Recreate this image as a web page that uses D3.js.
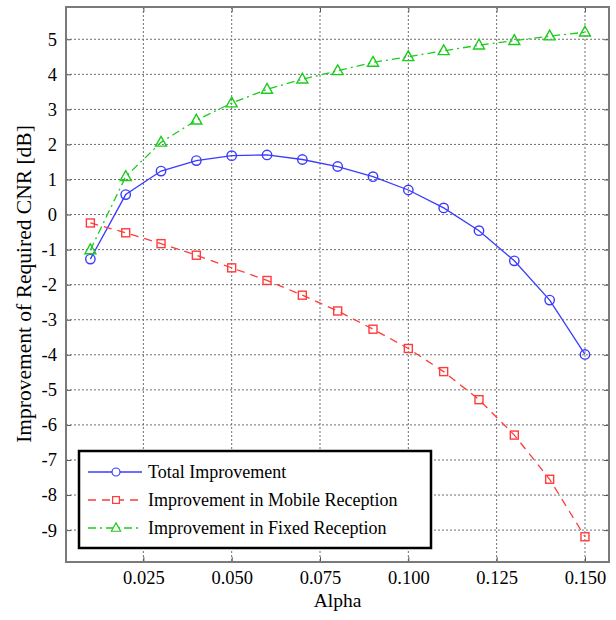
<!DOCTYPE html>
<html>
<head>
<meta charset="utf-8">
<script src="https://cdn.jsdelivr.net/npm/d3@7"></script>
<style>
  body { margin: 0; background: #fff; }
  svg text { font-family: "Liberation Serif", "Times New Roman", serif; fill: #000; }
</style>
</head>
<body>
<div id="container"></div>
<script>
/* CONSTANTS AND GLOBALS */
const width = 616,
    height = 620,
    margin = { top: 7, bottom: 58, left: 66, right: 7 };
const serif = '"Liberation Serif", "Times New Roman", serif';

// DATA
const alpha = [0.01, 0.02, 0.03, 0.04, 0.05, 0.06, 0.07, 0.08, 0.09, 0.10, 0.11, 0.12, 0.13, 0.14, 0.15];
const totalImprovement = [-1.27, 0.57, 1.24, 1.54, 1.68, 1.70, 1.57, 1.37, 1.08, 0.70, 0.19, -0.46, -1.32, -2.44, -3.99];
const mobileImprovement = [-0.24, -0.52, -0.83, -1.16, -1.52, -1.88, -2.30, -2.75, -3.27, -3.82, -4.48, -5.28, -6.29, -7.55, -9.19];
const fixedImprovement = [-1.01, 1.08, 2.06, 2.69, 3.18, 3.57, 3.86, 4.10, 4.34, 4.50, 4.67, 4.83, 4.96, 5.09, 5.20];
const xTicks = [0.025, 0.050, 0.075, 0.100, 0.125, 0.150];
const yTicks = [-9, -8, -7, -6, -5, -4, -3, -2, -1, 0, 1, 2, 3, 4, 5];
const seriesNames = ["Total Improvement", "Improvement in Mobile Reception", "Improvement in Fixed Reception"];

const series = [
    { name: seriesNames[0], values: totalImprovement, color: "#3b3bff", dash: null, marker: "circle" },
    { name: seriesNames[1], values: mobileImprovement, color: "#ff3b3b", dash: "8,6", marker: "square" },
    { name: seriesNames[2], values: fixedImprovement, color: "#1ccc1c", dash: "8,4,2,4", marker: "triangle" },
];

// SVG
const svg = d3.select("#container")
    .append("svg")
    .attr("width", width)
    .attr("height", height);

// SCALES
const xScale = d3.scaleLinear()
    .domain([0.0031, 0.1568])
    .range([margin.left, width - margin.right]);

const yScale = d3.scaleLinear()
    .domain([-9.91, 5.92])
    .range([height - margin.bottom, margin.top]);

const plotW = width - margin.left - margin.right,
    plotH = height - margin.top - margin.bottom;

// GRID
svg.append("g")
    .selectAll("line.vgrid")
    .data(xTicks)
    .join("line")
    .attr("class", "vgrid")
    .attr("x1", d => xScale(d)).attr("x2", d => xScale(d))
    .attr("y1", margin.top).attr("y2", height - margin.bottom)
    .attr("stroke", "#6e6e6e")
    .attr("stroke-dasharray", "2,2");

svg.append("g")
    .selectAll("line.hgrid")
    .data(yTicks)
    .join("line")
    .attr("class", "hgrid")
    .attr("x1", margin.left).attr("x2", width - margin.right)
    .attr("y1", d => yScale(d)).attr("y2", d => yScale(d))
    .attr("stroke", "#6e6e6e")
    .attr("stroke-dasharray", "2,2");

// AXES (ticks inward)
const xAxis = svg.append("g")
    .attr("transform", `translate(0, ${height - margin.bottom})`)
    .call(d3.axisBottom(xScale).tickValues(xTicks).tickFormat(d3.format(".3f")).tickSizeInner(-5).tickSizeOuter(0).tickPadding(9));

const xAxisTop = svg.append("g")
    .attr("transform", `translate(0, ${margin.top})`)
    .call(d3.axisTop(xScale).tickValues(xTicks).tickFormat("").tickSizeInner(-5).tickSizeOuter(0));

const yAxis = svg.append("g")
    .attr("transform", `translate(${margin.left}, 0)`)
    .call(d3.axisLeft(yScale).tickValues(yTicks).tickFormat(d => d < 0 ? "-" + Math.abs(d) : d).tickSizeInner(-5).tickSizeOuter(0).tickPadding(9));

const yAxisRight = svg.append("g")
    .attr("transform", `translate(${width - margin.right}, 0)`)
    .call(d3.axisRight(yScale).tickValues(yTicks).tickFormat("").tickSizeInner(-5).tickSizeOuter(0));

svg.selectAll(".domain").remove();
svg.selectAll("g").attr("font-family", serif);
svg.selectAll(".tick line").attr("stroke", "#555").attr("stroke-width", 1);
svg.selectAll(".tick text")
    .attr("font-family", serif)
    .attr("font-size", 18.5)
    .attr("fill", "#000");

// FRAME
svg.append("rect")
    .attr("x", margin.left)
    .attr("y", margin.top)
    .attr("width", plotW)
    .attr("height", plotH)
    .attr("fill", "none")
    .attr("stroke", "#7a7a7a")
    .attr("stroke-width", 2);

// AXIS TITLES
svg.append("text")
    .attr("x", margin.left + plotW / 2)
    .attr("y", 607)
    .attr("text-anchor", "middle")
    .attr("font-family", serif)
    .attr("font-size", 19.5)
    .text("Alpha");

svg.append("text")
    .attr("transform", `translate(31, 284) rotate(-90)`)
    .attr("text-anchor", "middle")
    .attr("font-family", serif)
    .attr("font-size", 21.5)
    .text("Improvement of Required CNR [dB]");

// MARKERS
function drawMarker(sel, type, color) {
    if (type === "circle") {
        sel.append("circle").attr("r", 4.7);
    } else if (type === "square") {
        sel.append("rect").attr("x", -4).attr("y", -4).attr("width", 8).attr("height", 8);
    } else {
        sel.append("path").attr("d", "M0,-6L5.5,3.8L-5.5,3.8Z");
    }
    sel.selectAll("*")
        .attr("fill", "none")
        .attr("stroke", color)
        .attr("stroke-width", 1.4);
}

// LINES
const lineGen = d3.line()
    .x((d, i) => xScale(alpha[i]))
    .y(d => yScale(d));

series.forEach(s => {
    svg.append("path")
        .datum(s.values)
        .attr("d", lineGen)
        .attr("fill", "none")
        .attr("stroke", s.color)
        .attr("stroke-width", 1.3)
        .attr("stroke-dasharray", s.dash);

    svg.append("g")
        .selectAll("g")
        .data(s.values)
        .join("g")
        .attr("transform", (d, i) => `translate(${xScale(alpha[i])}, ${yScale(d)})`)
        .each(function () { drawMarker(d3.select(this), s.marker, s.color); });
});

// LEGEND
const legend = svg.append("g").attr("transform", "translate(79, 451)");
legend.append("rect")
    .attr("width", 352)
    .attr("height", 97)
    .attr("fill", "#fff")
    .attr("stroke", "#000")
    .attr("stroke-width", 2.5);

const rows = legend.selectAll("g.row")
    .data(series)
    .join("g")
    .attr("class", "row")
    .attr("transform", (d, i) => `translate(0, ${21 + i * 28})`);

rows.append("line")
    .attr("x1", 9).attr("x2", 63)
    .attr("stroke", d => d.color)
    .attr("stroke-width", 1.3)
    .attr("stroke-dasharray", d => d.dash);

rows.each(function (d) {
    const m = d3.select(this).append("g").attr("transform", "translate(37, 0) scale(0.85)");
    drawMarker(m, d.marker, d.color);
    m.selectAll("*").attr("fill", "#fff");
});

rows.append("text")
    .attr("x", 69)
    .attr("y", 6)
    .attr("font-family", serif)
    .attr("font-size", 18)
    .text(d => d.name);
</script>
</body>
</html>
